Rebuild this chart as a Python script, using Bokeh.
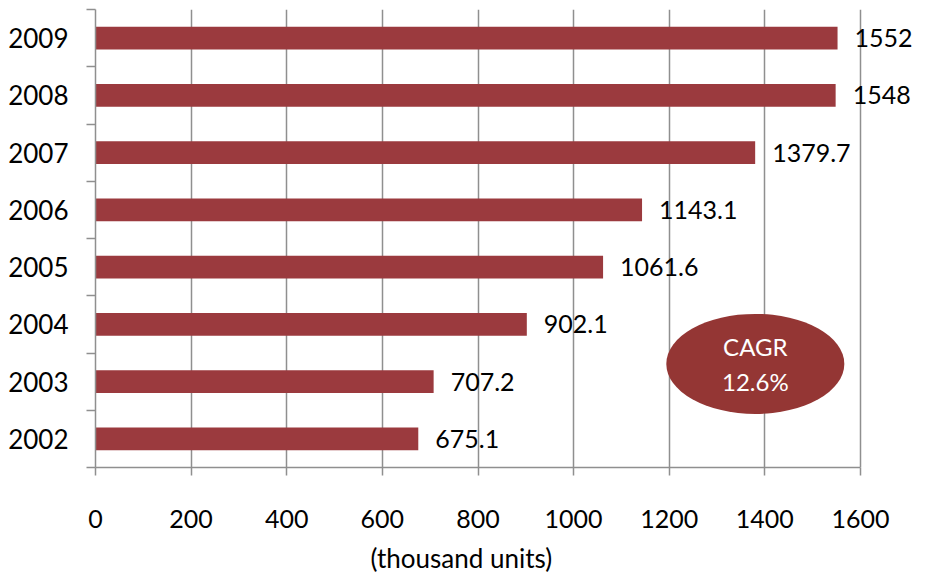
import numpy as np
from bokeh.plotting import figure
from bokeh.models import Range1d, FixedTicker, ColumnDataSource, Title
from bokeh.core.properties import value
from bokeh.embed import file_html
from bokeh.resources import INLINE

# Annual volumes, thousand units
years = ["2002", "2003", "2004", "2005", "2006", "2007", "2008", "2009"]
volumes = [675.1, 707.2, 902.1, 1061.6, 1143.1, 1379.7, 1548, 1552]
value_labels = ["675.1", "707.2", "902.1", "1061.6", "1143.1", "1379.7", "1548", "1552"]
x_ticks = [0, 200, 400, 600, 800, 1000, 1200, 1400, 1600]
x_max = 1600
cagr_text = "CAGR\n12.6%"

FONT = "Lato"
BAR = "#9B3A3E"
GRID = "#8F8F8F"

# the axis spans 0..1600 over 765 px; the frame continues to the right
# so the value labels of the longest bars are not clipped
AXIS_PX, FRAME_PX = 765, 825
x_end = x_max * FRAME_PX / AXIS_PX

pos = np.arange(len(years)) + 0.5
src = ColumnDataSource(dict(y=pos, v=volumes, lab=value_labels))

p = figure(frame_width=FRAME_PX, frame_height=458, output_backend="svg", toolbar_location=None,
           x_range=Range1d(0, x_end), y_range=Range1d(0, len(years)),
           min_border_left=95, min_border_right=6, min_border_top=9,
           min_border_bottom=111)
p.outline_line_color = None

p.hbar(y="y", right="v", left=0, height=0.4, source=src,
       fill_color=BAR, line_color=None)

p.text(x="v", y="y", text="lab", source=src, x_offset=17,
       text_font=value(FONT), text_font_size="25px", text_color="black",
       text_baseline="middle", text_align="left")

# CAGR bubble
p.ellipse(x=[1380], y=[1.81], width=178, height=100, width_units="screen",
          height_units="screen", fill_color="#943634", line_color=None)
p.text(x=[1380], y=[1.81], text=[cagr_text], text_font=value(FONT),
       text_font_size="24px", text_color="white", text_align="center",
       text_baseline="middle", text_line_height=1.2)

# grid
p.ygrid.grid_line_color = None
p.xgrid.ticker = FixedTicker(ticks=x_ticks)
p.xgrid.grid_line_color = GRID
p.xgrid.grid_line_width = 1.5

# x axis
xa = p.xaxis[0]
xa.ticker = FixedTicker(ticks=x_ticks)
xa.bounds = (0, x_max)
xa.axis_line_color = GRID
xa.axis_line_width = 1.5
xa.major_tick_line_color = GRID
xa.major_tick_line_width = 1.5
xa.major_tick_in = 0
xa.major_tick_out = 8
xa.minor_tick_line_color = None
xa.major_label_text_font = FONT
xa.major_label_text_font_size = "25px"
xa.major_label_text_color = "black"
xa.major_label_standoff = 34

p.add_layout(Title(text="(thousand units)", align="left", offset=275,
                   text_font=FONT, text_font_size="26px", text_font_style="normal",
                   text_color="black", standoff=18), "below")

# y axis: labels at bar centres, ticks between categories
ya = p.yaxis[0]
ya.ticker = FixedTicker(ticks=list(pos), minor_ticks=list(range(len(years) + 1)))
ya.major_label_overrides = {float(t): y for t, y in zip(pos, years)}
ya.axis_line_color = GRID
ya.axis_line_width = 1.5
ya.major_tick_line_color = None
ya.minor_tick_line_color = GRID
ya.minor_tick_line_width = 1.5
ya.minor_tick_in = 0
ya.minor_tick_out = 9
ya.major_label_text_font = FONT
ya.major_label_text_font_size = "26px"
ya.major_label_text_color = "black"
ya.major_label_standoff = 18

open("out.html", "w").write(file_html(p, INLINE))
